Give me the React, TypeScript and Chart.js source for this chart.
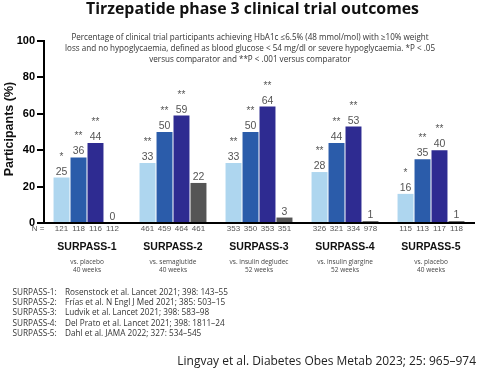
import React, { useEffect, useRef } from "react";
import { Chart, registerables } from "chart.js";

Chart.register(...registerables);

const title = "Tirzepatide phase 3 clinical trial outcomes";
const subtitleLines = [
  "Percentage of clinical trial participants achieving HbA1c ≤6.5% (48 mmol/mol) with ≥10% weight",
  "loss and no hypoglycaemia, defined as blood glucose < 54 mg/dl or severe hypoglycaemia. *P < .05",
  "versus comparator and **P < .001 versus comparator",
];
const yAxisTitle = "Participants (%)";
const categories = ["SURPASS-1", "SURPASS-2", "SURPASS-3", "SURPASS-4", "SURPASS-5"];
const comparatorNames = ["vs. placebo", "vs. semaglutide", "vs. insulin degludec", "vs. insulin glargine", "vs. placebo"];
const durations = ["40 weeks", "40 weeks", "52 weeks", "52 weeks", "40 weeks"];

const seriesNames = ["Tirzepatide 5 mg", "Tirzepatide 10 mg", "Tirzepatide 15 mg", "Comparator"];
const tzp5 = [25, 33, 33, 28, 16];
const tzp10 = [36, 50, 50, 44, 35];
const tzp15 = [44, 59, 64, 53, 40];
const comparator = [0, 22, 3, 1, 1];

const n5 = [121, 461, 353, 326, 115];
const n10 = [118, 459, 350, 321, 113];
const n15 = [116, 464, 353, 334, 117];
const nComp = [112, 461, 351, 978, 118];

const sig5 = ["*", "**", "**", "**", "*"];
const sig10 = ["**", "**", "**", "**", "**"];
const sig15 = ["**", "**", "**", "**", "**"];
const sigComp = ["", "", "", "", ""];

const yMin = 0;
const yMax = 100;
const yStep = 20;

const refTrials = ["SURPASS-1:", "SURPASS-2:", "SURPASS-3:", "SURPASS-4:", "SURPASS-5:"];
const refTexts = [
  "Rosenstock et al. Lancet 2021; 398: 143–55",
  "Frías et al. N Engl J Med 2021; 385: 503–15",
  "Ludvik et al. Lancet 2021; 398: 583–98",
  "Del Prato et al. Lancet 2021; 398: 1811–24",
  "Dahl et al. JAMA 2022; 327: 534–545",
];
const citation = "Lingvay et al. Diabetes Obes Metab 2023; 25: 965–974";

const colors = ["#aed6ef", "#2b5caa", "#2e2b91", "#555555"];

const SANS = "'Liberation Sans', Arial, sans-serif";
const TEXT = "'Open Sans', 'Noto Sans', sans-serif";

function fitFont(ctx: CanvasRenderingContext2D, text: string, weight: string, family: string, target: number) {
  ctx.font = `${weight} 10px ${family}`;
  const w = ctx.measureText(text).width;
  const size = (10 * target) / w;
  ctx.font = `${weight} ${size.toFixed(2)}px ${family}`;
  return size;
}

const annotations = {
  id: "annotations",
  afterDraw(chart: any) {
    const ctx: CanvasRenderingContext2D = chart.ctx;
    const xs = chart.scales.x;
    ctx.save();

    // Title
    ctx.fillStyle = "#111";
    ctx.textAlign = "center";
    ctx.textBaseline = "alphabetic";
    fitFont(ctx, title, "bold", TEXT, 333);
    ctx.fillText(title, 252.5, 14);

    // Subtitle
    ctx.fillStyle = "#333";
    const subSize = fitFont(ctx, subtitleLines[1], "normal", TEXT, 370);
    ctx.font = `normal ${subSize.toFixed(2)}px ${TEXT}`;
    ctx.textBaseline = "middle";
    subtitleLines.forEach((l, i) => ctx.fillText(l, 250, 37.5 + i * 11));

    // Y axis title
    ctx.save();
    ctx.translate(10, 129);
    ctx.rotate(-Math.PI / 2);
    ctx.fillStyle = "#111";
    ctx.font = `bold 12.5px ${SANS}`;
    ctx.textAlign = "center";
    ctx.textBaseline = "middle";
    ctx.fillText(yAxisTitle, 0, 0);
    ctx.restore();

    // Value labels and significance
    const sigs = [sig5, sig10, sig15, sigComp];
    const ns = [n5, n10, n15, nComp];
    ctx.textAlign = "center";
    chart.data.datasets.forEach((ds: any, d: number) => {
      const meta = chart.getDatasetMeta(d);
      meta.data.forEach((bar: any, i: number) => {
        ctx.fillStyle = "#555";
        ctx.font = `normal 10.5px ${SANS}`;
        ctx.textBaseline = "alphabetic";
        ctx.fillText(String(ds.data[i]), bar.x, bar.y - 3);
        if (sigs[d][i]) {
          ctx.font = `normal 10px ${SANS}`;
          ctx.fillText(sigs[d][i], bar.x, bar.y - 18);
        }
        ctx.font = `normal 8px ${SANS}`;
        ctx.textBaseline = "middle";
        ctx.fillText(String(ns[d][i]), bar.x, 229);
      });
    });
    ctx.font = `normal 8px ${SANS}`;
    ctx.textBaseline = "middle";
    ctx.fillText("N =", 38, 229);

    // Group labels
    categories.forEach((c, i) => {
      const x = xs.getPixelForValue(i);
      ctx.fillStyle = "#111";
      ctx.font = `bold 10.5px ${SANS}`;
      ctx.textBaseline = "middle";
      ctx.fillText(c, x, 247);
      ctx.fillStyle = "#444";
      ctx.font = `normal 6.5px ${TEXT}`;
      ctx.fillText(comparatorNames[i], x, 262);
      ctx.fillText(durations[i], x, 270);
    });

    // References
    ctx.textAlign = "left";
    ctx.fillStyle = "#333";
    const refSize = fitFont(ctx, refTexts[0], "normal", TEXT, 163);
    ctx.font = `normal ${refSize.toFixed(2)}px ${TEXT}`;
    ctx.textBaseline = "middle";
    refTrials.forEach((t, i) => {
      const y = 292.5 + i * 10.3;
      ctx.fillText(t, 12.5, y);
      ctx.fillText(refTexts[i], 65, y);
    });

    // Citation
    ctx.textAlign = "right";
    ctx.textBaseline = "alphabetic";
    ctx.fillStyle = "#222";
    fitFont(ctx, citation, "normal", TEXT, 299);
    ctx.fillText(citation, 476, 365);

    ctx.restore();
  },
};

export default function App() {
  const ref = useRef<HTMLCanvasElement>(null);
  useEffect(() => {
    if (!ref.current) return;
    const data = [tzp5, tzp10, tzp15, comparator];
    const chart = new Chart(ref.current, {
      type: "bar",
      data: {
        labels: categories,
        datasets: data.map((d, i) => ({
          label: seriesNames[i],
          data: d,
          backgroundColor: colors[i],
          borderWidth: 0,
          barPercentage: 0.94,
          categoryPercentage: 0.79,
        })),
      },
      options: {
        responsive: false,
        animation: false,
        layout: { padding: { top: 41, right: 6, bottom: 148, left: 0 } },
        plugins: {
          legend: { display: false },
          title: { display: false },
          tooltip: { enabled: true },
        },
        scales: {
          x: {
            grid: { display: false },
            border: { display: true, color: "#000", width: 2 },
            ticks: { display: false },
            afterFit: (s: any) => {
              s.height = 0;
            },
          },
          y: {
            min: yMin,
            max: yMax,
            ticks: {
              stepSize: yStep,
              color: "#000",
              padding: 2,
              font: { family: SANS, size: 11, weight: "bold" },
            },
            grid: {
              drawOnChartArea: false,
              drawTicks: true,
              tickLength: 7,
              color: "#000",
              lineWidth: 2,
            },
            border: { display: true, color: "#000", width: 2 },
            afterFit: (s: any) => {
              s.width = 44;
            },
          },
        },
      },
      plugins: [annotations],
    } as any);
    return () => chart.destroy();
  }, []);
  return (
    <div style={{ position: "fixed", left: 0, top: 0, width: 480, height: 371, background: "#fff" }}>
      <canvas ref={ref} width={480} height={371} />
    </div>
  );
}
